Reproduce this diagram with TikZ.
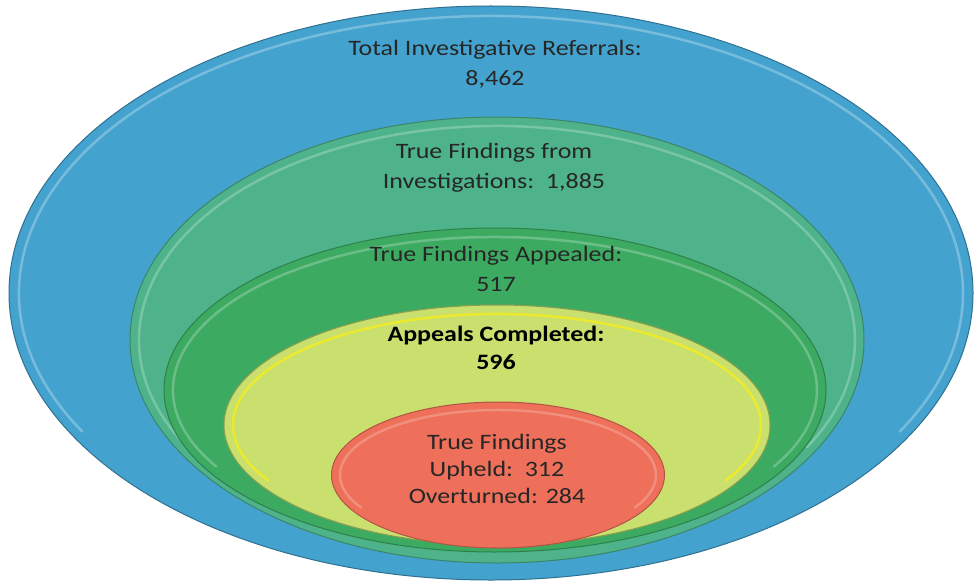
\documentclass[tikz,border=0pt]{standalone}
\usepackage{fontspec}
\newfontfamily\calibri[FakeStretch=1.18]{Carlito}
\usetikzlibrary{shapes.geometric}
\definecolor{refblue}{HTML}{44A2CF}
\definecolor{invteal}{HTML}{4EB38A}
\definecolor{appgreen}{HTML}{3DAA62}
\definecolor{compyellow}{HTML}{C9E06F}
\definecolor{upred}{HTML}{EE705A}
\definecolor{txtgray}{HTML}{262626}
\begin{document}
\begin{tikzpicture}[x=1pt,y=-1pt,
	bowl/.style={ellipse,inner sep=0,outer sep=0,line width=1pt},
	rim/.style={line width=2.5pt,opacity=0.4,line cap=round},
	txt/.style={font=\calibri\fontsize{22}{30}\selectfont,text=txtgray,align=center,inner sep=0}]
	\useasboundingbox[fill=white](0,0)rectangle(974,583);
	%Bowls, outside in (the rim arcs give the bevel)
	\node[bowl,fill=refblue,draw=refblue!70!black,minimum width=964pt,minimum height=574pt](referrals) at (491,293){};
	\draw[rim,white!70!refblue](referrals.center)++(150:472 and 277)arc[start angle=150,end angle=390,x radius=472,y radius=277];
	\node[bowl,fill=invteal,draw=invteal!75!black,minimum width=734pt,minimum height=446pt](findings) at (497,340){};
	\draw[rim,white!60!invteal](findings.center)++(150:358 and 214)arc[start angle=150,end angle=390,x radius=358,y radius=214];
	\node[bowl,fill=appgreen,draw=appgreen!75!black,minimum width=662pt,minimum height=324pt](appealed) at (495,390){};
	\draw[rim,white!60!appgreen](appealed.center)++(150:322 and 153)arc[start angle=150,end angle=390,x radius=322,y radius=153];
	\node[bowl,fill=compyellow,draw=compyellow!70!black,minimum width=546pt,minimum height=240pt](completed) at (497,425){};
	\draw[rim,yellow!80!compyellow,opacity=0.8](completed.center)++(150:264 and 111)arc[start angle=150,end angle=390,x radius=264,y radius=111];
	\node[bowl,fill=upred,draw=upred!75!black,minimum width=333pt,minimum height=146pt](upheld) at (498,475){};
	\draw[rim,white!55!upred](upheld.center)++(150:158 and 65)arc[start angle=150,end angle=390,x radius=158,y radius=65];
	%Labels
	\node[txt](referralsText) at (495,64){Total Investigative Referrals:\\8,462};
	\node[txt](findingsText) at (494,168){True Findings from\\Investigations:\ \ 1,885};
	\node[txt](appealedText) at (496,269){True Findings Appealed:\\517};
	\node[txt,font=\calibri\bfseries\fontsize{22}{28}\selectfont,text=black](completedText) at (496,348){Appeals Completed:\\596};
	\node[txt,font=\calibri\fontsize{22}{27}\selectfont](upheldText) at (497,469){True Findings\\Upheld:\ \ 312\\Overturned: 284};
\end{tikzpicture}
\end{document}
